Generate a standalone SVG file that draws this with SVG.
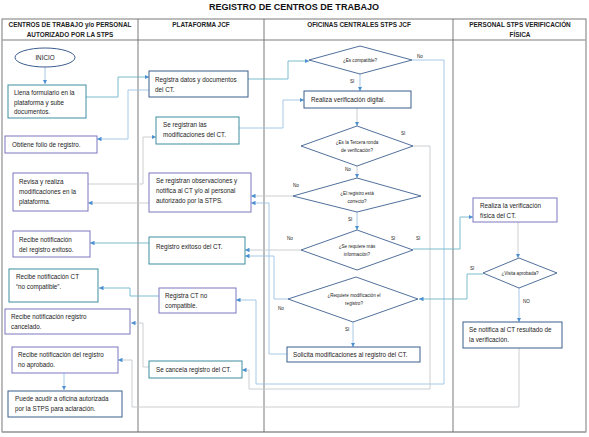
<svg xmlns="http://www.w3.org/2000/svg" width="589" height="437" viewBox="0 0 589 437">
<defs>
<marker id="ah" viewBox="0 0 6 6" refX="6" refY="3" markerWidth="4.5" markerHeight="4.5" markerUnits="userSpaceOnUse" orient="auto"><path d="M0,0 L6,3 L0,6 z" fill="#4a8fd0"/></marker>
</defs>
<style>
.t{font-family:"Liberation Sans",Arial,sans-serif;font-size:6.3px;fill:#1a1a1a}
.h{font-family:"Liberation Sans",Arial,sans-serif;font-size:6.4px;font-weight:bold;fill:#222;text-anchor:middle}
.d{font-family:"Liberation Sans",Arial,sans-serif;font-size:4.6px;fill:#222;text-anchor:middle}
.l{font-family:"Liberation Sans",Arial,sans-serif;font-size:4.6px;fill:#222}
.box{fill:#fff;stroke-width:1}
.teal{stroke:#3f8ea0}
.purp{stroke:#7a78c0}
.blue{stroke:#3b5c8e}
.dia{fill:#fff;stroke:#3d6090;stroke-width:0.9}
.c{fill:none;stroke-width:0.9}
.cg{stroke:#c4c8cc}
.ct{stroke:#6db6c8}
.cb{stroke:#9cc4e4}
.lane{stroke:#6b6b6b;stroke-width:0.9;fill:none}
</style>
<rect width="589" height="437" fill="#fff"/>
<text x="294" y="10" font-family="Liberation Sans,Arial,sans-serif" font-size="9.5" font-weight="bold" fill="#111" text-anchor="middle" textLength="170" lengthAdjust="spacingAndGlyphs">REGISTRO DE CENTROS DE TRABAJO</text>

<g id="lanes">
<rect x="2" y="19" width="584" height="413" class="lane"/>
<line x1="2" y1="40" x2="586" y2="40" stroke="#a9a9a9" stroke-width="1.6"/>
<line x1="2" y1="432" x2="586" y2="432" stroke="#a9a9a9" stroke-width="1.6"/>
<line x1="138" y1="19" x2="138" y2="432" class="lane"/>
<line x1="264" y1="19" x2="264" y2="432" class="lane"/>
<line x1="453" y1="19" x2="453" y2="432" class="lane"/>
<text class="h" x="70" y="27">CENTROS DE TRABAJO y/o PERSONAL</text>
<text class="h" x="70" y="37">AUTORIZADO POR LA STPS</text>
<text class="h" x="201" y="27">PLATAFORMA JCF</text>
<text class="h" x="359" y="27">OFICINAS CENTRALES STPS JCF</text>
<text class="h" x="520" y="27">PERSONAL STPS VERIFICACIÓN</text>
<text class="h" x="520" y="37">FÍSICA</text>
</g>

<g id="connectors">
<path class="c cb" d="M45,67 V84" marker-end="url(#ah)"/>
<path class="c cb" d="M64,373 V390" marker-end="url(#ah)"/>
<path class="c ct" d="M86,97 H118 V77 H149" marker-end="url(#ah)"/>
<path class="c cb" d="M149,90 H128 V139 H97" marker-end="url(#ah)"/>
<path class="c ct" d="M248,79 H288 V61 H309" marker-end="url(#ah)"/>
<path class="c cb" d="M239,128 H283 V100 H304" marker-end="url(#ah)"/>
<path class="c cg" d="M88,184 H143 V137 H156" marker-end="url(#ah)"/>
<path class="c cg" d="M149,203 H88" marker-end="url(#ah)"/>
<path class="c cg" d="M293,196 H251" marker-end="url(#ah)"/>
<path class="c cb" d="M287,354 H269 V203 H251" marker-end="url(#ah)"/>
<path class="c cg" d="M301,250 H245" marker-end="url(#ah)"/>
<path class="c cb" d="M288,299 H274 V256 H245" marker-end="url(#ah)"/>
<path class="c ct" d="M149,243 H90" marker-end="url(#ah)"/>
<path class="c ct" d="M159,296 H130 V288 H99" marker-end="url(#ah)"/>
<path class="c cg" d="M149,367 H143 V323 H131" marker-end="url(#ah)"/>
<path class="c cb" d="M412,60 H444 V384 H256 V300 H236" marker-end="url(#ah)"/>
<path class="c cg" d="M413,146 H430 V389 H249 V370 H242" marker-end="url(#ah)"/>
<path class="c cg" d="M519,348 V407 H132 V360 H118" marker-end="url(#ah)"/>
<path class="c ct" d="M413,249 H460 V217 H473" marker-end="url(#ah)"/>
<path class="c ct" d="M483,274 H467 V299 H419" marker-end="url(#ah)"/>
<path class="c cb" d="M360,74 V91" marker-end="url(#ah)"/>
<path class="c cg" d="M357,108 V126" marker-end="url(#ah)"/>
<path class="c cg" d="M357,166 V178" marker-end="url(#ah)"/>
<path class="c cb" d="M357,212 V230" marker-end="url(#ah)"/>
<path class="c cb" d="M353,322 V347" marker-end="url(#ah)"/>
<path class="c cg" d="M518,222 V258" marker-end="url(#ah)"/>
<path class="c cb" d="M519,288 V322" marker-end="url(#ah)"/>
</g>

<g id="inicio">
<ellipse cx="45" cy="57.5" rx="30" ry="9.5" fill="#fff" stroke="#3b5c8e" stroke-width="1"/>
<text class="t" x="45" y="60" text-anchor="middle">INICIO</text>
</g>
<g id="llena">
<rect class="box teal" x="8" y="85" width="78" height="33"/>
<text class="t" x="14" y="95">Llena formulario en la<tspan x="14" dy="9.5">plataforma y sube</tspan><tspan x="14" dy="9.5">documentos.</tspan></text>
</g>
<g id="obtiene">
<rect class="box purp" x="5" y="136" width="92" height="17"/>
<text class="t" x="12" y="147">Obtiene folio de registro.</text>
</g>
<g id="revisa">
<rect class="box purp" x="13" y="173" width="75" height="38"/>
<text class="t" x="19" y="184">Revisa y realiza<tspan x="19" dy="9.8">modificaciones en la</tspan><tspan x="19" dy="9.8">plataforma.</tspan></text>
</g>
<g id="recibe-exitoso">
<rect class="box purp" x="13" y="231" width="77" height="26"/>
<text class="t" x="19" y="242">Recibe notificación<tspan x="19" dy="9.8">del registro exitoso.</tspan></text>
</g>
<g id="recibe-nocompatible">
<rect class="box teal" x="9" y="269" width="89" height="33"/>
<text class="t" x="16" y="279">Recibe notificación CT<tspan x="16" dy="9.8">“no compatible”.</tspan></text>
</g>
<g id="recibe-cancelado">
<rect class="box purp" x="5" y="309" width="125" height="25"/>
<text class="t" x="11" y="319">Recibe notificación registro<tspan x="11" dy="10">cancelado.</tspan></text>
</g>
<g id="recibe-noaprobado">
<rect class="box purp" x="12" y="347" width="106" height="26"/>
<text class="t" x="18" y="357">Recibe notificación del registro<tspan x="18" dy="10">no aprobado.</tspan></text>
</g>
<g id="puede">
<rect class="box blue" x="8" y="391" width="114" height="26"/>
<text class="t" x="15" y="401">Puede acudir a oficina autorizada<tspan x="15" dy="10">por la STPS para aclaración.</tspan></text>
</g>

<g id="registra-datos">
<rect class="box blue" x="149" y="71" width="99" height="26"/>
<text class="t" x="155" y="82">Registra datos y documentos<tspan x="155" dy="9.5">del CT.</tspan></text>
</g>
<g id="registran-mod">
<rect class="box teal" x="156" y="117" width="83" height="27"/>
<text class="t" x="163" y="127">Se registran las<tspan x="163" dy="9.8">modificaciones del CT.</tspan></text>
</g>
<g id="registran-obs">
<rect class="box purp" x="149" y="173" width="102" height="39"/>
<text class="t" x="156" y="183">Se registran observaciones y<tspan x="156" dy="10">notifica al CT y/o al personal</tspan><tspan x="156" dy="10">autorizado por la STPS.</tspan></text>
</g>
<g id="registro-exitoso">
<rect class="box teal" x="149" y="237" width="96" height="27"/>
<text class="t" x="156" y="249">Registro exitoso del CT.</text>
</g>
<g id="registra-nocompatible">
<rect class="box purp" x="159" y="288" width="77" height="25"/>
<text class="t" x="165" y="298">Registra CT no<tspan x="165" dy="10">compatible.</tspan></text>
</g>
<g id="cancela">
<rect class="box teal" x="149" y="361" width="93" height="17"/>
<text class="t" x="156" y="372">Se cancela registro del CT.</text>
</g>

<g id="d-compatible">
<polygon class="dia" points="360,46 412,60 360,74 309,60"/>
<text class="d" x="360" y="62">¿Es compatible?</text>
<text class="l" x="417" y="58">No</text>
<text class="l" x="350" y="83">SI</text>
</g>
<g id="verif-digital">
<rect class="box blue" x="304" y="91" width="107" height="17"/>
<text class="t" x="311" y="102" font-size="7">Realiza verificación digital.</text>
</g>
<g id="d-tercera">
<polygon class="dia" points="357,126 413,146 357,166 301,146"/>
<text class="d" x="357" y="144">¿Es la Tercera ronda<tspan x="357" dy="8">de verificación?</tspan></text>
<text class="l" x="401" y="135">SI</text>
<text class="l" x="345" y="171">No</text>
</g>
<g id="d-correcto">
<polygon class="dia" points="357,178 421,196 357,212 293,196"/>
<text class="d" x="357" y="195">¿El registro está<tspan x="357" dy="8">correcto?</tspan></text>
<text class="l" x="293" y="187">No</text>
<text class="l" x="348" y="221">SI</text>
</g>
<g id="d-info">
<polygon class="dia" points="357,230 413,250 357,270 301,250"/>
<text class="d" x="357" y="248">¿Se requiere más<tspan x="357" dy="8">información?</tspan></text>
<text class="l" x="287" y="240">No</text>
<text class="l" x="391" y="240">SI</text>
<text class="l" x="416" y="240">SI</text>
</g>
<g id="d-modificacion">
<polygon class="dia" points="356,277 418,299 353,322 288,299"/>
<text class="d" x="354" y="297">¿Requiere modificación el<tspan x="354" dy="8">registro?</tspan></text>
<text class="l" x="278" y="310">No</text>
<text class="l" x="345" y="331">SI</text>
</g>
<g id="solicita">
<rect class="box blue" x="287" y="347" width="133" height="15"/>
<text class="t" x="293" y="357" font-size="7">Solicita modificaciones al registro del CT.</text>
</g>

<g id="verif-fisica">
<rect class="box purp" x="473" y="198" width="84" height="24"/>
<text class="t" x="480" y="208">Realiza la verificación<tspan x="480" dy="10">física del CT.</tspan></text>
</g>
<g id="d-visita">
<polygon class="dia" points="519,258 557,273 519,288 483,273"/>
<text class="d" x="520" y="275">¿Visita aprobada?</text>
<text class="l" x="470" y="270">SI</text>
<text class="l" x="523" y="303">NO</text>
</g>
<g id="notifica">
<rect class="box blue" x="463" y="322" width="99" height="26"/>
<text class="t" x="469" y="332">Se notifica al CT resultado de<tspan x="469" dy="10">la verificación.</tspan></text>
</g>
</svg>
